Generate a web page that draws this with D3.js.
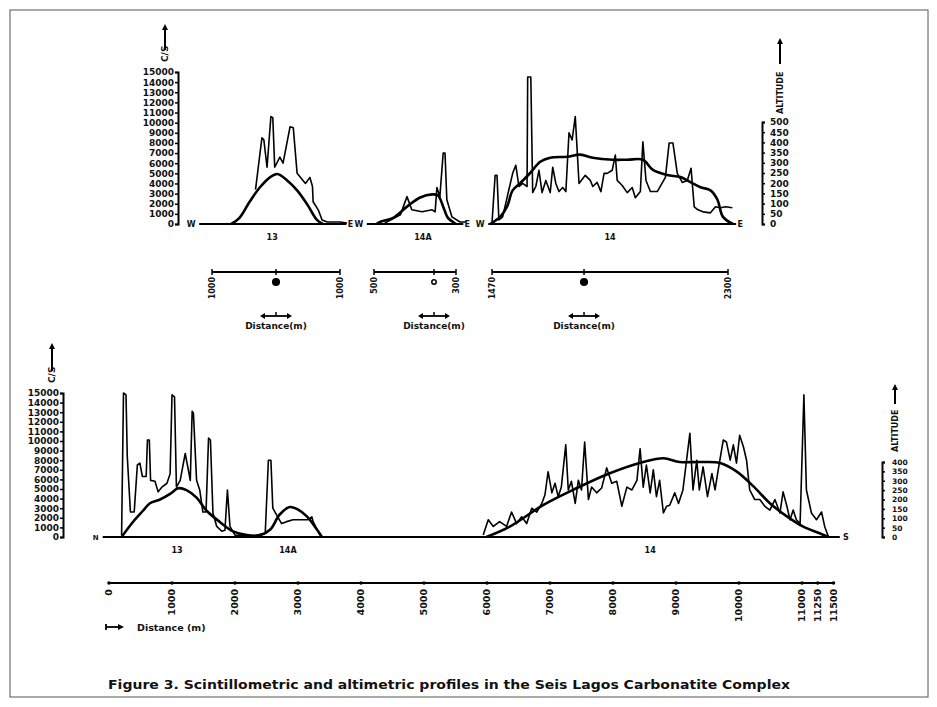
<!DOCTYPE html>
<html>
<head>
<meta charset="utf-8">
<script src="https://cdn.jsdelivr.net/npm/d3@7"></script>
<style>
  body { margin: 0; background: #fff; }
  text { font-family: "DejaVu Sans", sans-serif; font-weight: bold; fill: #111; }
</style>
</head>
<body>
<svg id="fig" width="937" height="707"></svg>
<script>
// tick labels
const csTicks = [0, 1000, 2000, 3000, 4000, 5000, 6000, 7000, 8000, 9000, 10000, 11000, 12000, 13000, 14000, 15000];
const altTicksTop = [0, 50, 100, 150, 200, 250, 300, 350, 400, 450, 500];
const altTicksBottom = [0, 50, 100, 150, 200, 250, 300, 350, 400];
const distTicksBottom = [0, 1000, 2000, 3000, 4000, 5000, 6000, 7000, 8000, 9000, 10000, 11000, 11250, 11500];

// top profiles: [distance m, value]  (C/S counts, altitude m)
const top13Cs = [[-320,3400],[-220,8500],[-190,8300],[-140,5600],[-80,10600],[-50,10500],[-20,5600],[60,6600],[110,6000],[220,9600],[270,9500],[330,5000],[460,4000],[530,4600],[570,3700],[580,2200],[660,1400],[720,400],[800,200],[1000,200],[1110,100]];
const top13Alt = [[-700,0],[-570,30],[-410,110],[-250,180],[-90,230],[20,245],[170,215],[330,165],[490,95],[640,20],[730,0]];
const top14aCs = [[-410,100],[-280,900],[-225,2700],[-185,1400],[-100,1200],[-15,1400],[15,1200],[40,3600],[80,2700],[125,7000],[150,7000],[175,2400],[245,700],[355,200],[435,200]];
const top14aAlt = [[-480,0],[-450,10],[-340,30],[-225,85],[-115,130],[-15,145],[55,140],[125,85],[190,30],[260,10],[300,0]];
const top14Cs = [[-1470,100],[-1420,4800],[-1390,4800],[-1360,400],[-1300,700],[-1140,5000],[-1090,5800],[-1040,3700],[-980,4000],[-910,3700],[-900,14500],[-850,14500],[-820,3100],[-770,3700],[-720,5300],[-670,3100],[-610,4300],[-540,3100],[-500,5600],[-450,4000],[-400,3200],[-340,3600],[-290,3200],[-240,9000],[-190,8300],[-140,10600],[-110,7300],[-80,4000],[20,4800],[100,4300],[140,3700],[210,4100],[270,3200],[320,5000],[370,5000],[450,5300],[500,6800],[530,4300],[610,3800],[690,3100],[770,3600],[820,2600],[900,3200],[940,8100],[990,4300],[1060,3200],[1170,3200],[1300,4600],[1360,8000],[1420,8000],[1490,5000],[1570,4100],[1650,4300],[1710,5500],[1760,1700],[1820,1400],[1900,1200],[2020,1100],[2100,1700],[2180,1600],[2260,1700],[2370,1600]];
const top14Alt = [[-1500,0],[-1340,35],[-1230,85],[-1140,165],[-1020,200],[-860,250],[-700,305],[-540,325],[-270,330],[-60,340],[140,325],[460,315],[690,315],[940,315],[1100,265],[1330,240],[1540,230],[1700,205],[1860,180],[2020,165],[2130,120],[2220,35],[2380,0]];

// bottom profile (N-S), distance m
const bot13Cs = [[200,200],[230,15000],[270,14800],[290,8400],[340,2600],[400,2600],[450,7500],[490,7700],[530,6300],[590,6300],[610,10100],[640,10100],[660,5900],[730,5800],[780,4700],[840,5200],[920,5600],[970,6600],[1000,14800],[1040,14600],[1070,5200],[1130,5900],[1170,7300],[1210,8700],[1250,7300],[1290,5900],[1320,13100],[1340,12900],[1390,5900],[1440,4900],[1490,2600],[1540,2600],[1580,10300],[1610,10100],[1650,2500],[1710,1100],[1790,600],[1840,700],[1880,4900],[1920,1100],[2000,200],[2290,100],[2480,400],[2530,8000],[2570,8000],[2600,3000],[2660,2300],[2740,1400],[2820,1600],[2920,1800],[3080,1800],[3160,1800],[3220,2100],[3240,1600],[3350,200]];
const bot13Alt = [[200,0],[380,80],[540,140],[650,180],[810,200],[970,230],[1100,260],[1230,250],[1390,210],[1550,140],[1760,80],[1970,30],[2190,10],[2400,10],[2560,40],[2710,120],[2870,160],[2980,150],[3140,110],[3300,40],[3380,0]];
const bot14Cs = [[5940,200],[6020,1800],[6100,1100],[6200,1600],[6310,1100],[6390,2600],[6470,1400],[6550,2100],[6630,1400],[6710,3000],[6790,2600],[6870,3500],[6920,4400],[6970,6800],[7030,4600],[7080,5600],[7130,4200],[7180,5200],[7250,9600],[7290,4900],[7340,5800],[7400,3500],[7450,5900],[7500,4900],[7550,9900],[7610,3900],[7660,5200],[7740,4600],[7820,5100],[7900,7200],[7980,5600],[8060,5800],[8140,3200],[8220,5200],[8300,4900],[8380,5900],[8430,9200],[8480,5200],[8530,7500],[8590,4600],[8640,7000],[8690,4200],[8740,5900],[8800,2500],[8850,3200],[8900,3300],[8980,4600],[9040,3500],[9110,4900],[9220,10800],[9270,4900],[9330,8000],[9370,4900],[9430,7300],[9500,4200],[9570,6600],[9620,4900],[9670,7000],[9750,10100],[9800,9900],[9860,8000],[9910,9600],[9960,7700],[10010,10600],[10070,9400],[10120,8000],[10170,4900],[10250,3900],[10330,3900],[10410,3200],[10490,2800],[10570,3900],[10650,2500],[10700,4700],[10760,3200],[10810,1800],[10860,2800],[10910,1800],[10970,1400],[11030,14800],[11070,4900],[11150,2500],[11230,1800],[11310,2600],[11360,1100],[11420,0]];
const bot14Alt = [[5990,0],[6360,55],[6890,170],[7420,260],[7950,340],[8480,400],[8800,420],[9060,400],[9380,400],[9700,395],[9960,350],[10230,270],[10490,180],[10760,110],[11020,55],[11280,20],[11420,0]];

const svg = d3.select("#fig");

// frame
svg.append("rect").attr("x", 10).attr("y", 10).attr("width", 918).attr("height", 687)
  .attr("fill", "none").attr("stroke", "#555").attr("stroke-width", 1);

// scales
const yCsTop = d3.scaleLinear().domain([0, 15000]).range([224, 72]);
const yAltTop = d3.scaleLinear().domain([0, 500]).range([224, 122]);
const x13 = d3.scaleLinear().domain([-1000, 1000]).range([212, 340]);
const x14a = d3.scaleLinear().domain([-500, 0, 300]).range([374, 434, 456]);
const x14 = d3.scaleLinear().domain([-1470, 2300]).range([492, 728]);

const xBot = d3.scaleLinear().domain([0, 11000]).range([109, 802]);
const yCsBot = d3.scaleLinear().domain([0, 15000]).range([537, 393]);
const yAltBot = d3.scaleLinear().domain([0, 400]).range([537, 462]);

function drawLine(data, xs, ys, w, curve) {
  svg.append("path").datum(data)
    .attr("d", d3.line().x(d => xs(d[0])).y(d => ys(d[1])).curve(curve))
    .attr("fill", "none").attr("stroke", "#000")
    .attr("stroke-width", w).attr("stroke-linejoin", "round");
}

function upArrow(x, y1, y2) {
  svg.append("line").attr("x1", x).attr("x2", x).attr("y1", y1).attr("y2", y2 + 4)
    .attr("stroke", "#000").attr("stroke-width", 2);
  svg.append("path").attr("d", `M${x - 3},${y2 + 6}L${x},${y2}L${x + 3},${y2 + 6}Z`).attr("fill", "#000");
}

function vText(x, y, str, size, anchor) {
  svg.append("text").attr("transform", `translate(${x},${y}) rotate(-90)`)
    .attr("text-anchor", anchor).attr("dy", "0.35em")
    .style("font-size", size + "px").text(str);
}

function styleAxis(g, size) {
  g.select(".domain").attr("stroke-width", 2);
  g.selectAll(".tick line").attr("stroke-width", 1.5);
  g.selectAll("text").style("font-size", size + "px");
}

// ---- top panel ----
const gCsTop = svg.append("g").attr("transform", "translate(178,0)")
  .call(d3.axisLeft(yCsTop).tickValues(csTicks).tickSize(3).tickPadding(1).tickFormat(d3.format("d")));
styleAxis(gCsTop, 9);
vText(165, 62, "C/S", 9, "start");
upArrow(165, 50, 24);

const gAltTop = svg.append("g").attr("transform", "translate(762,0)")
  .call(d3.axisRight(yAltTop).tickValues(altTicksTop).tickSize(3).tickPadding(5));
styleAxis(gAltTop, 9);
vText(780, 114, "ALTITUDE", 8, "start");
upArrow(780, 64, 38);

const topProfiles = [
  { name: "13", xs: x13, cs: top13Cs, alt: top13Alt, base: [-1200, 1100], labelAt: -60, bar: [-1000, 1000], hollow: false },
  { name: "14A", xs: x14a, cs: top14aCs, alt: top14aAlt, base: [-560, 400], labelAt: -92, bar: [-500, 300], hollow: true },
  { name: "14", xs: x14, cs: top14Cs, alt: top14Alt, base: [-1530, 2430], labelAt: 416, bar: [-1470, 2300], hollow: false }
];

topProfiles.forEach(p => {
  const xs = p.xs;
  // baseline W-E
  svg.append("line").attr("x1", xs(p.base[0])).attr("x2", xs(p.base[1])).attr("y1", 224).attr("y2", 224)
    .attr("stroke", "#000").attr("stroke-width", 2);
  svg.append("text").attr("x", xs(p.base[0]) - 8).attr("y", 227).attr("text-anchor", "middle")
    .style("font-size", "8px").text("W");
  svg.append("text").attr("x", xs(p.base[1]) + 4).attr("y", 227).attr("text-anchor", "middle")
    .style("font-size", "8px").text("E");
  svg.append("text").attr("x", xs(p.labelAt)).attr("y", 240).attr("text-anchor", "middle")
    .style("font-size", "8px").text(p.name);

  drawLine(p.cs, xs, yCsTop, 1.6, d3.curveLinear);
  drawLine(p.alt, xs, yAltTop, 2.6, d3.curveCatmullRom.alpha(0.5));

  // distance bar
  svg.append("line").attr("x1", xs(p.bar[0])).attr("x2", xs(p.bar[1])).attr("y1", 272).attr("y2", 272)
    .attr("stroke", "#000").attr("stroke-width", 2);
  [p.bar[0], 0, p.bar[1]].forEach(v => {
    svg.append("line").attr("x1", xs(v)).attr("x2", xs(v)).attr("y1", 269).attr("y2", 275)
      .attr("stroke", "#000").attr("stroke-width", 1.5);
  });
  p.bar.forEach(v => vText(xs(v), 277, String(Math.abs(v)), 8, "end"));
  svg.append("circle").attr("cx", xs(0)).attr("cy", 282).attr("r", p.hollow ? 2.2 : 3.3)
    .attr("fill", p.hollow ? "#fff" : "#000").attr("stroke", "#000").attr("stroke-width", 1.5);

  // double arrow + caption
  const cx = xs(0);
  svg.append("line").attr("x1", cx - 13).attr("x2", cx + 13).attr("y1", 316).attr("y2", 316)
    .attr("stroke", "#000").attr("stroke-width", 1.8);
  svg.append("path").attr("d", `M${cx - 16},316l5,-3v6Z M${cx + 16},316l-5,-3v6Z`).attr("fill", "#000");
  svg.append("line").attr("x1", cx).attr("x2", cx).attr("y1", 312).attr("y2", 316)
    .attr("stroke", "#000").attr("stroke-width", 1.5);
  svg.append("text").attr("x", cx).attr("y", 329).attr("text-anchor", "middle")
    .style("font-size", "9px").text("Distance(m)");
});

// ---- bottom panel ----
const gCsBot = svg.append("g").attr("transform", "translate(63,0)")
  .call(d3.axisLeft(yCsBot).tickValues(csTicks).tickSize(3).tickPadding(1).tickFormat(d3.format("d")));
styleAxis(gCsBot, 9);
vText(52, 383, "C/S", 9, "start");
upArrow(52, 371, 343);

const gAltBot = svg.append("g").attr("transform", "translate(882,0)")
  .call(d3.axisRight(yAltBot).tickValues(altTicksBottom).tickSize(3).tickPadding(7));
styleAxis(gAltBot, 7.5);
vText(895, 452, "ALTITUDE", 8, "start");
upArrow(895, 404, 384);

const botBase = [-100, 11600];
svg.append("line").attr("x1", xBot(botBase[0])).attr("x2", xBot(botBase[1])).attr("y1", 537).attr("y2", 537)
  .attr("stroke", "#000").attr("stroke-width", 2);
svg.append("text").attr("x", xBot(botBase[0]) - 7).attr("y", 540).attr("text-anchor", "middle")
  .style("font-size", "7px").text("N");
svg.append("text").attr("x", xBot(botBase[1]) + 6).attr("y", 540).attr("text-anchor", "middle")
  .style("font-size", "8px").text("S");

const botLabels = [{ name: "13", at: 1080 }, { name: "14A", at: 2840 }, { name: "14", at: 8590 }];
botLabels.forEach(l => {
  svg.append("text").attr("x", xBot(l.at)).attr("y", 553).attr("text-anchor", "middle")
    .style("font-size", "8px").text(l.name);
});

drawLine(bot13Cs, xBot, yCsBot, 1.6, d3.curveLinear);
drawLine(bot14Cs, xBot, yCsBot, 1.6, d3.curveLinear);
drawLine(bot13Alt, xBot, yAltBot, 2.6, d3.curveCatmullRom.alpha(0.5));
drawLine(bot14Alt, xBot, yAltBot, 2.6, d3.curveCatmullRom.alpha(0.5));

// bottom distance bar
const lastTick = distTicksBottom[distTicksBottom.length - 1];
svg.append("line").attr("x1", xBot(0)).attr("x2", xBot(lastTick)).attr("y1", 583).attr("y2", 583)
  .attr("stroke", "#000").attr("stroke-width", 2);
distTicksBottom.forEach(v => {
  svg.append("circle").attr("cx", xBot(v)).attr("cy", 583).attr("r", 1.8).attr("fill", "#000");
  vText(xBot(v), 589, String(v), 9.5, "end");
});
svg.append("line").attr("x1", 106).attr("x2", 120).attr("y1", 627).attr("y2", 627)
  .attr("stroke", "#000").attr("stroke-width", 1.8);
svg.append("line").attr("x1", 106).attr("x2", 106).attr("y1", 624).attr("y2", 630)
  .attr("stroke", "#000").attr("stroke-width", 1.8);
svg.append("path").attr("d", "M124,627l-6,-3v6Z").attr("fill", "#000");
svg.append("text").attr("x", 137).attr("y", 631).style("font-size", "9.5px").text("Distance (m)");

// caption
svg.append("text").attr("x", 108).attr("y", 689).attr("textLength", 682).attr("lengthAdjust", "spacingAndGlyphs")
  .style("font-size", "12px")
  .text("Figure 3. Scintillometric and altimetric profiles in the Seis Lagos Carbonatite Complex");
</script>
</body>
</html>
